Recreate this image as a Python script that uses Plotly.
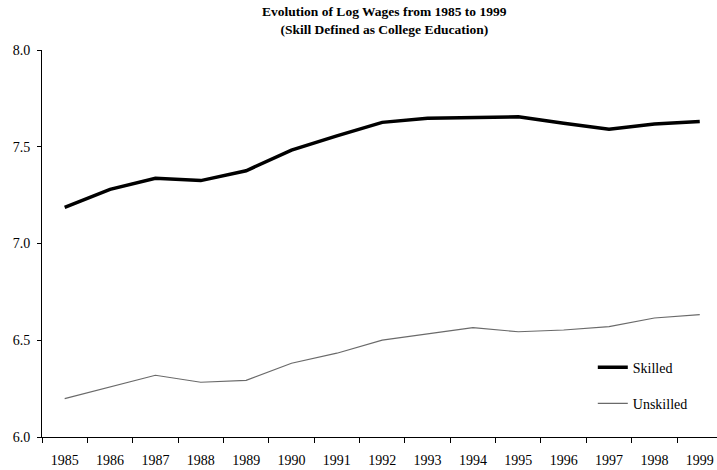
import plotly.graph_objects as go

years = [str(y) for y in range(1985, 2000)]
skilled = [7.187, 7.280, 7.337, 7.325, 7.376, 7.483, 7.556, 7.626,
           7.647, 7.652, 7.655, 7.621, 7.590, 7.618, 7.631]
unskilled = [6.198, 6.260, 6.319, 6.283, 6.293, 6.381, 6.433, 6.501,
             6.532, 6.565, 6.544, 6.553, 6.570, 6.615, 6.632]
y_ticks = [6.0, 6.5, 7.0, 7.5, 8.0]

FONT = "Liberation Serif"

fig = go.Figure()
fig.add_trace(go.Scatter(
    x=years, y=skilled, name="Skilled", mode="lines",
    line=dict(color="black", width=3.5), legendgroup="a",
))
fig.add_trace(go.Scatter(
    x=years, y=unskilled, name="Unskilled", mode="lines",
    line=dict(color="#6a6a6a", width=1.2), legendgroup="b",
))

fig.update_layout(
    width=717, height=470,
    paper_bgcolor="white", plot_bgcolor="white",
    font=dict(family=FONT, size=14, color="black"),
    title=dict(
        text="<b>Evolution of Log Wages from 1985 to 1999<br>(Skill Defined as College Education)</b>",
        x=0.536, xref="container", xanchor="center",
        y=0.965, yref="container", yanchor="top",
        font=dict(family=FONT, size=13.5, color="black"),
    ),
    margin=dict(l=42, r=0, t=50, b=33),
    showlegend=True,
    legend=dict(
        x=0.816, y=0.133, xanchor="left", yanchor="middle",
        bgcolor="rgba(0,0,0,0)", tracegroupgap=15,
        traceorder="grouped",
        font=dict(family=FONT, size=14, color="black"),
    ),
    xaxis=dict(
        type="category", range=[-0.5, 14.38],
        showline=True, linecolor="black", linewidth=1,
        ticks="outside", tickson="boundaries", ticklen=5,
        tickcolor="black", showgrid=False, zeroline=False,
        ticklabelstandoff=10,
        tickfont=dict(family=FONT, size=14),
    ),
    yaxis=dict(
        range=[6.0, 8.0], tickvals=y_ticks,
        ticktext=[f"{v:.1f}" for v in y_ticks],
        showline=True, linecolor="black", linewidth=1,
        ticks="outside", ticklen=4, tickcolor="black",
        showgrid=False, zeroline=False,
        ticklabelstandoff=4,
        tickfont=dict(family=FONT, size=14),
    ),
)

# page body has a default 8px margin; drop it so the figure sits at 0,0
fig.write_html("out.html", config={"displayModeBar": False},
               post_script="document.body.style.margin='0';")
